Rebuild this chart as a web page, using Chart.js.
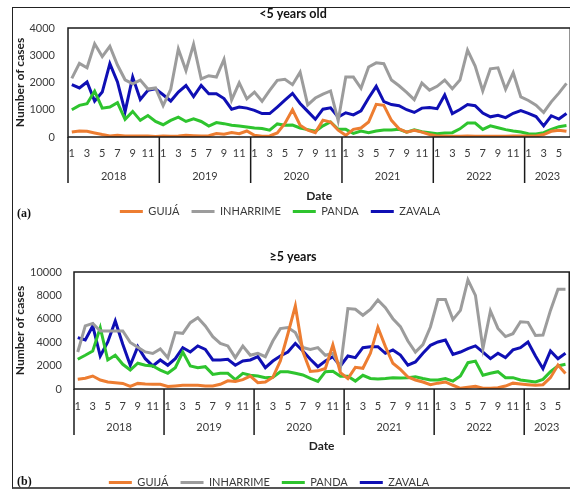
<!DOCTYPE html>
<html>
<head>
<meta charset="utf-8">
<script src="https://cdn.jsdelivr.net/npm/chart.js@4.4.0/dist/chart.umd.min.js"></script>
<style>
  html, body { margin: 0; padding: 0; background: #fff; width: 570px; height: 490px; overflow: hidden; }
  #frame { position: absolute; left: 12px; top: 7px; width: 620px; height: 479px;
           border-left: 1px solid #222; border-top: 1px solid #222; border-bottom: 2px solid #555;
           z-index: 2; pointer-events: none; }
  canvas { position: absolute; left: 13px; }
  #chartA { top: 6px; }
  #chartB { top: 249px; }
  .tag { position: absolute; left: 17px; font: bold 12px "Liberation Serif", "DejaVu Serif", serif; color: #111; z-index: 3; }
</style>
</head>
<body>
<div id="frame"></div>
<canvas id="chartA" width="563" height="221"></canvas>
<canvas id="chartB" width="563" height="249"></canvas>
<div class="tag" style="top:206px;">(a)</div>
<div class="tag" style="top:474px;">(b)</div>
<script>
// Monthly periods: Jan 2018 – Jun 2023
const YEARS = [2018, 2019, 2020, 2021, 2022, 2023];
const MONTHS_SHOWN = [12, 12, 12, 12, 12, 6];
const SERIES_NAMES = ['GUIJÁ', 'INHARRIME', 'PANDA', 'ZAVALA'];
const SERIES_COLORS = ['#ED7D31', '#9C9C9C', '#2EC42E', '#0F0FB4'];

// Category labels "YYYY-MM" and the month number of each category
const categories = [];
const monthOf = [];
YEARS.forEach((y, k) => {
  for (let m = 1; m <= MONTHS_SHOWN[k]; m++) {
    categories.push(y + '-' + String(m).padStart(2, '0'));
    monthOf.push(m);
  }
});

// (a) Children under 5 years old
const GUIJA_U5 = [
  180, 220, 210, 150, 90, 40, 60, 40, 40, 40, 40, 20,
  40, 30, 40, 60, 50, 40, 50, 130, 100, 160, 120, 220,
  60, 30, 40, 150, 500, 1000, 430, 250, 160, 620, 550, 250,
  60, 280, 330, 550, 1200, 1160, 610, 300, 180, 250, 180, 90,
  40, 40, 30, 30, 40, 30, 30, 30, 30, 30, 40, 40,
  40, 40, 90, 210, 250, 210
];
const INHARRIME_U5 = [
  2150, 2700, 2540, 3420, 2950, 3330, 2640, 2100, 1950, 2090, 1760, 1800,
  1150, 1750, 3230, 2440, 3400, 2130, 2250, 2200, 2850, 1360, 1990, 1400,
  1650, 1310, 1710, 2080, 2120, 1920, 2380, 1180, 1430, 1570, 1690, 600,
  2200, 2200, 1790, 2570, 2720, 2690, 2090, 1880, 1640, 1370, 1980, 1720,
  1860, 2090, 1770, 2090, 3190, 2600, 1690, 2500, 2540, 1750, 2360, 1470,
  1340, 1170, 900, 1290, 1610, 1970
];
const PANDA_U5 = [
  1000, 1160, 1220, 1680, 1060, 1100, 1260, 650, 940, 610, 790, 570,
  450, 610, 730, 570, 670, 570, 400, 530, 490, 430, 400, 370,
  330, 310, 250, 480, 430, 440, 330, 270, 210, 410, 550, 280,
  280, 130, 220, 160, 220, 260, 260, 280, 180, 260, 190, 160,
  120, 150, 160, 300, 510, 510, 280, 410, 340, 270, 220, 180,
  120, 110, 160, 280, 380, 420
];
const ZAVALA_U5 = [
  1920, 1800, 2020, 1320, 1650, 2690, 2020, 930, 2200, 1380, 1710, 1770,
  1550, 1320, 1650, 1890, 1480, 1890, 1590, 1590, 1410, 1020, 1100, 1060,
  980, 860, 860, 1100, 1350, 1600, 1230, 940, 650, 1020, 1070, 730,
  890, 810, 960, 1430, 1860, 1300, 1190, 1150, 1000, 900, 1060, 1080,
  1040, 1540, 860, 1010, 1190, 1150, 880, 740, 800, 710, 870, 970,
  870, 750, 410, 780, 660, 860
];

// (b) People aged 5 years and over
const GUIJA_5P = [
  830, 920, 1110, 770, 600, 540, 480, 230, 480, 430, 400, 400,
  210, 260, 310, 310, 310, 260, 260, 400, 700, 650, 800, 1100,
  540, 600, 1000, 2400, 4700, 7100, 3200, 1500, 1550, 1750, 3780, 1400,
  900, 1850, 1770, 3050, 5270, 3620, 2200, 1680, 1030, 770, 600, 370,
  500, 600, 320, 60, 150, 230, 60, 60, 100, 250, 500, 430,
  370, 320, 370, 970, 2050, 1320
];
const INHARRIME_5P = [
  3160, 5390, 5610, 4960, 4960, 4960, 4960, 3980, 3560, 3170, 3040, 3430,
  2680, 4820, 4760, 5670, 6100, 5390, 4470, 3900, 3680, 2680, 3680, 2880,
  3050, 2760, 4100, 5160, 5250, 4820, 3540, 3390, 3540, 2880, 3050, 1800,
  6870, 6810, 6300, 6810, 7610, 6950, 6010, 5330, 4100, 3150, 3800, 5300,
  7650, 7650, 5930, 6720, 9320, 8000, 3450, 6670, 5180, 4480, 4730, 5750,
  5700, 4570, 4610, 6720, 8520, 8520
];
const PANDA_5P = [
  2540, 2880, 3250, 5250, 2480, 2880, 2110, 1620, 2200, 2030, 1970, 1620,
  1340, 1820, 3160, 1970, 1820, 1910, 1250, 1340, 1340, 800, 1340, 1170,
  1110, 970, 1000, 1480, 1480, 1340, 1200, 900, 650, 1480, 1520, 1100,
  1100, 680, 1170, 900, 850, 900, 970, 950, 970, 1050, 900, 770,
  770, 900, 680, 1110, 2250, 2380, 1170, 1340, 1480, 970, 970, 770,
  680, 600, 820, 1480, 1970, 2110
];
const ZAVALA_5P = [
  4390, 4190, 5390, 2820, 4020, 5810, 3820, 2030, 3620, 2590, 1970, 2480,
  2030, 2590, 3530, 3160, 3680, 3390, 2480, 2480, 2540, 2030, 2390, 2480,
  2760, 1820, 2390, 2820, 3160, 3900, 3250, 2540, 1910, 2390, 2760, 1970,
  2820, 2680, 3530, 3620, 3620, 3050, 3340, 2900, 2030, 2310, 3050, 3730,
  4020, 4190, 2960, 3160, 3450, 3680, 3160, 2590, 3050, 2680, 3340, 3530,
  4020, 2820, 1740, 3250, 2590, 3050
];

const FONT = 'Lato, "Open Sans", "Liberation Sans", sans-serif';
const TEXT_COLOR = '#3a3a3a';

// Frame around the plot area, year separators and year labels under the month ticks
const yearAxis = {
  id: 'yearAxis',
  afterDraw(chart, args, opts) {
    const { ctx, chartArea: a } = chart;
    const x = chart.scales.x;
    const half = (x.getPixelForValue(1) - x.getPixelForValue(0)) / 2;
    ctx.save();
    ctx.strokeStyle = '#1a1a1a';
    ctx.lineWidth = 1.5;
    ctx.strokeRect(a.left, a.top, a.right - a.left, a.bottom - a.top);
    ctx.font = '11px ' + FONT;
    ctx.fillStyle = TEXT_COLOR;
    ctx.textAlign = 'center';
    ctx.textBaseline = 'middle';
    let start = 0;
    YEARS.forEach((yr, k) => {
      const n = MONTHS_SHOWN[k];
      const xl = x.getPixelForValue(start) - half;
      ctx.beginPath();
      ctx.moveTo(xl, a.bottom);
      ctx.lineTo(xl, a.bottom + opts.sepLength);
      ctx.stroke();
      const xc = (x.getPixelForValue(start) + x.getPixelForValue(start + n - 1)) / 2;
      ctx.fillText(String(yr), xc, a.bottom + opts.labelOffset);
      start += n;
    });
    ctx.restore();
  }
};

// Moves the legend row sideways by a fixed amount
const legendShift = {
  id: 'legendShift',
  afterLayout(chart, args, opts) {
    const l = chart.legend;
    if (l && opts.dx) { l.left -= opts.dx; l.right -= opts.dx; }
  }
};

function makeChart(id, title, series, p) {
  const datasets = series.map((values, i) => ({
    label: SERIES_NAMES[i],
    data: values,
    borderColor: SERIES_COLORS[i],
    backgroundColor: SERIES_COLORS[i],
    borderWidth: 3,
    pointRadius: 0,
    tension: 0,
    fill: false
  }));
  return new Chart(document.getElementById(id), {
    type: 'line',
    data: { labels: categories, datasets },
    plugins: [yearAxis, legendShift],
    options: {
      responsive: false,
      animation: false,
      layout: { padding: { left: 0, right: 3, top: 0, bottom: 0 } },
      plugins: {
        title: {
          display: true, text: title, color: '#111',
          font: { family: FONT, size: 12.5, weight: 'bold' },
          padding: { top: p.titleTop, bottom: p.titleBottom }
        },
        legend: {
          position: 'bottom',
          labels: {
            boxWidth: 23, boxHeight: 3, padding: 12, color: TEXT_COLOR,
            font: { family: FONT, size: 11 },
            generateLabels: (chart) => Chart.defaults.plugins.legend.labels.generateLabels(chart)
              .map(item => Object.assign(item, { lineWidth: 0, fillStyle: item.strokeStyle }))
          }
        },
        tooltip: { enabled: false },
        yearAxis: { sepLength: p.sepLength, labelOffset: p.yearOffset },
        legendShift: { dx: p.legendDx }
      },
      scales: {
        x: {
          type: 'category',
          offset: true,
          grid: { display: false, drawTicks: false },
          border: { display: false },
          afterFit: (scale) => { scale.height = p.xAxisHeight; },
          ticks: {
            autoSkip: false, maxRotation: 0, minRotation: 0,
            padding: p.tickPad, color: TEXT_COLOR,
            font: { family: FONT, size: 11 },
            callback: (v, i) => (monthOf[i] % 2 === 1 ? String(monthOf[i]) : '')
          },
          title: {
            display: true, text: 'Date', color: '#222',
            font: { family: FONT, size: 12, weight: 'bold' },
            padding: { top: 0, bottom: p.datePadBottom }
          }
        },
        y: {
          min: 0, max: p.yMax,
          grid: { display: false, drawTicks: false },
          border: { display: false },
          afterFit: (scale) => { scale.width = p.yAxisWidth; },
          ticks: {
            stepSize: p.yStep, padding: p.yTickPad, color: TEXT_COLOR,
            font: { family: FONT, size: 11 },
            callback: (v) => String(v)
          },
          title: {
            display: true, text: 'Number of cases', color: '#222',
            font: { family: FONT, size: 12, weight: 'bold' },
            padding: { top: 0, bottom: 3 }
          }
        }
      }
    }
  });
}

makeChart('chartA', '<5 years old', [GUIJA_U5, INHARRIME_U5, PANDA_U5, ZAVALA_U5], {
  titleTop: 0, titleBottom: 7, yMax: 4000, yStep: 1000, yTickPad: 13, yAxisWidth: 55,
  xAxisHeight: 57, tickPad: 9.5, datePadBottom: -9.5,
  sepLength: 46, yearOffset: 39, legendDx: 13
});
makeChart('chartB', '≥5 years', [GUIJA_5P, INHARRIME_5P, PANDA_5P, ZAVALA_5P], {
  titleTop: 0.5, titleBottom: 7.5, yMax: 10000, yStep: 2000, yTickPad: 12, yAxisWidth: 61,
  xAxisHeight: 76, tickPad: 10.5, datePadBottom: 11.5,
  sepLength: 46, yearOffset: 38, legendDx: 24
});
</script>
</body>
</html>
